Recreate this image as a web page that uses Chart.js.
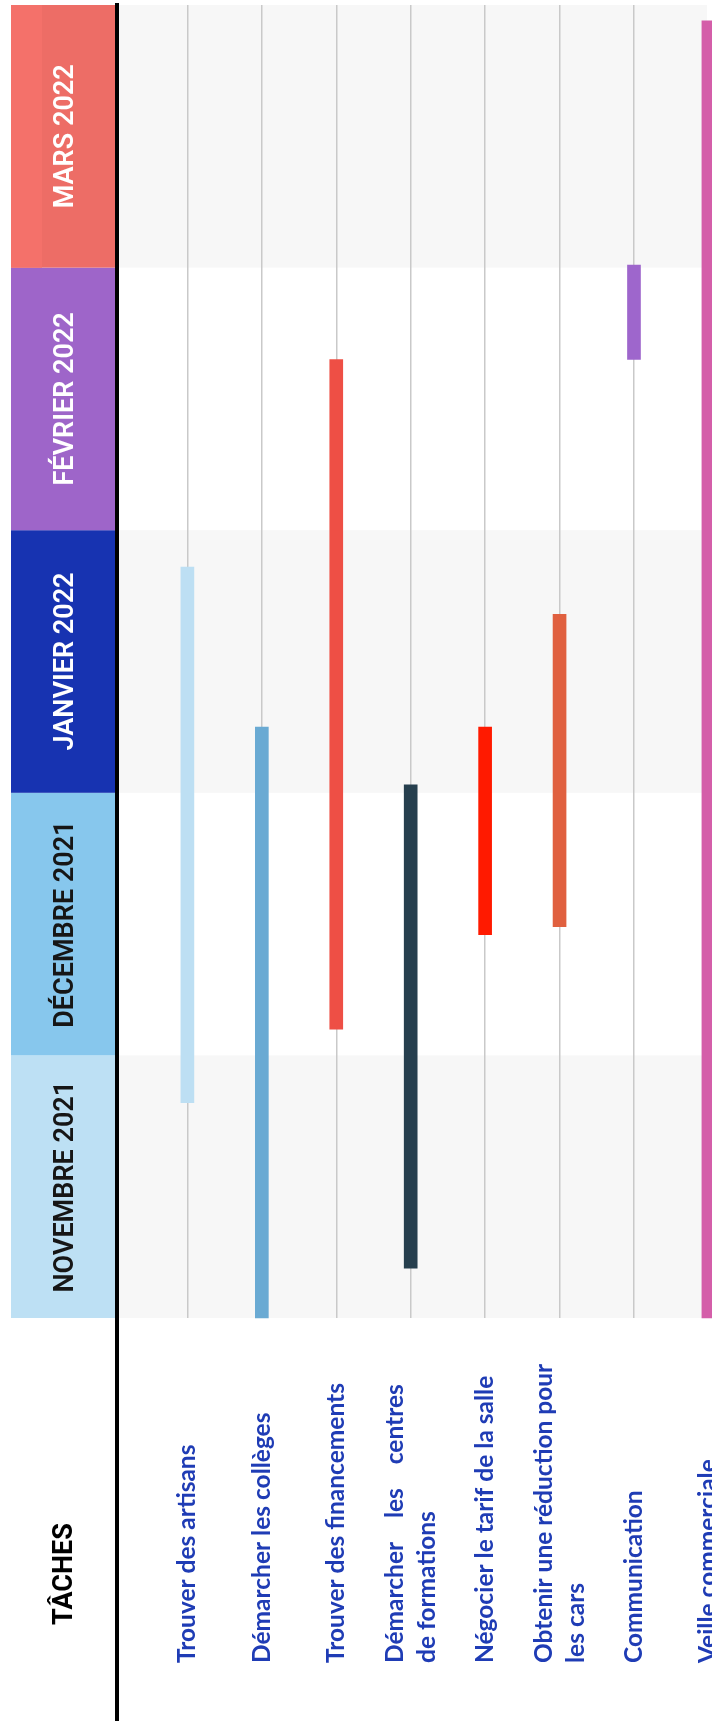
<!DOCTYPE html>
<html lang="fr">
<head>
<meta charset="utf-8">
<title>Planning des tâches</title>
<script src="https://cdn.jsdelivr.net/npm/chart.js@4.4.1/dist/chart.umd.min.js"></script>
<style>
    html, body { margin: 0; padding: 0; background: #fff; overflow: hidden; }
    canvas { display: block; }
</style>
</head>
<body>
<canvas id="gantt" width="712" height="1721" style="width:712px;height:1721px"></canvas>
<script>
// --- Données (en mois depuis le 1er novembre 2021) ---
const taches = [
    ['Trouver des artisans'],
    ['Démarcher les collèges'],
    ['Trouver des financements'],
    ['Démarcher    les    centres', 'de formations'],
    ['Négocier le tarif de la salle'],
    ['Obtenir une réduction pour', 'les cars'],
    ['Communication'],
    ['Veille commerciale']
];
const debuts = [0.82, 0, 1.10, 0.19, 1.46, 1.49, 3.65, 0];
const fins = [2.86, 2.25, 3.65, 2.03, 2.25, 2.68, 4.01, 4.94];
const couleursTaches = ['#bddff3', '#6aaad3', '#ee4f45', '#263f4e', '#ff1a00', '#e0603f', '#9e66cc', '#d45ea9'];

const mois = ['NOVEMBRE 2021', 'DÉCEMBRE 2021', 'JANVIER 2022', 'FÉVRIER 2022', 'MARS 2022'];
const couleursMois = ['#bde0f4', '#87c7ed', '#1733b1', '#9e65c9', '#ed6d66'];
const texteMois = ['#161616', '#161616', '#ffffff', '#ffffff', '#ffffff'];

document.addEventListener('DOMContentLoaded', () => {
    const ctx = document.getElementById('gantt').getContext('2d');

    const fondEtEntetes = {
        id: 'fondEtEntetes',
        beforeDraw(chart) {
            const { ctx, chartArea, scales: { y } } = chart;
            ctx.save();
            mois.forEach((m, i) => {
                if (i % 2 === 0) {
                    const haut = y.getPixelForValue(i + 1);
                    const bas = y.getPixelForValue(i);
                    ctx.fillStyle = '#f7f7f7';
                    ctx.fillRect(chartArea.left, haut, chartArea.right - chartArea.left, bas - haut);
                }
            });
            ctx.restore();
        },
        afterDraw(chart) {
            const { ctx, scales: { x, y } } = chart;
            ctx.save();

            // en-têtes des mois
            mois.forEach((m, i) => {
                const haut = y.getPixelForValue(i + 1);
                const bas = y.getPixelForValue(i);
                ctx.fillStyle = couleursMois[i];
                ctx.fillRect(11, haut, 104, bas - haut);
                if (i === mois.length - 1) {
                    ctx.fillStyle = '#f4716a';
                    ctx.fillRect(11, haut, 31, bas - haut);
                }
                ctx.save();
                ctx.translate(63, (haut + bas) / 2);
                ctx.rotate(-Math.PI / 2);
                ctx.fillStyle = texteMois[i];
                ctx.font = '600 27px Roboto';
                ctx.textAlign = 'center';
                ctx.textBaseline = 'alphabetic';
                ctx.fillText(m, 0, 10);
                ctx.restore();
            });

            // trait noir
            ctx.fillStyle = '#000';
            ctx.fillRect(115, 3, 4, chart.height);

            // titre de colonne
            ctx.save();
            ctx.translate(62, 1574);
            ctx.rotate(-Math.PI / 2);
            ctx.fillStyle = '#000';
            ctx.font = 'bold 27px Roboto';
            ctx.textAlign = 'center';
            ctx.fillText('TÂCHES', 0, 10);
            ctx.restore();

            // libellés des tâches
            taches.forEach((lignes, i) => {
                const cx = x.getPixelForValue(i);
                ctx.save();
                ctx.translate(cx, 1663);
                ctx.rotate(-Math.PI / 2);
                ctx.fillStyle = '#1f3cb5';
                ctx.font = 'bold 24.5px Lato';
                ctx.textAlign = 'left';
                const depart = lignes.length > 1 ? -8 : 8;
                lignes.forEach((l, k) => ctx.fillText(l, 0, depart + k * 32));
                ctx.restore();
            });

            ctx.restore();
        }
    };

    new Chart(ctx, {
        type: 'bar',
        data: {
            datasets: [{
                data: taches.map((t, i) => ({ x: i, y: [debuts[i], fins[i]] })),
                backgroundColor: couleursTaches,
                borderWidth: 0,
                barThickness: 13,
                clip: false
            }]
        },
        options: {
            responsive: false,
            devicePixelRatio: 1,
            animation: false,
            layout: { padding: { top: 5, left: 119, right: 5, bottom: 403 } },
            plugins: {
                legend: { display: false },
                tooltip: { enabled: false }
            },
            scales: {
                x: {
                    type: 'linear',
                    offset: false,
                    min: -0.919,
                    max: 6.981,
                    ticks: { display: false, stepSize: 1 },
                    grid: {
                        offset: false,
                        drawTicks: false,
                        lineWidth: 1.5,
                        color: c => (c.tick && Number.isInteger(c.tick.value)) ? '#c9c9c9' : 'rgba(0,0,0,0)'
                    },
                    border: { display: false }
                },
                y: {
                    type: 'linear',
                    min: 0,
                    max: 5,
                    display: false
                }
            }
        },
        plugins: [fondEtEntetes]
    });
});
</script>
</body>
</html>
